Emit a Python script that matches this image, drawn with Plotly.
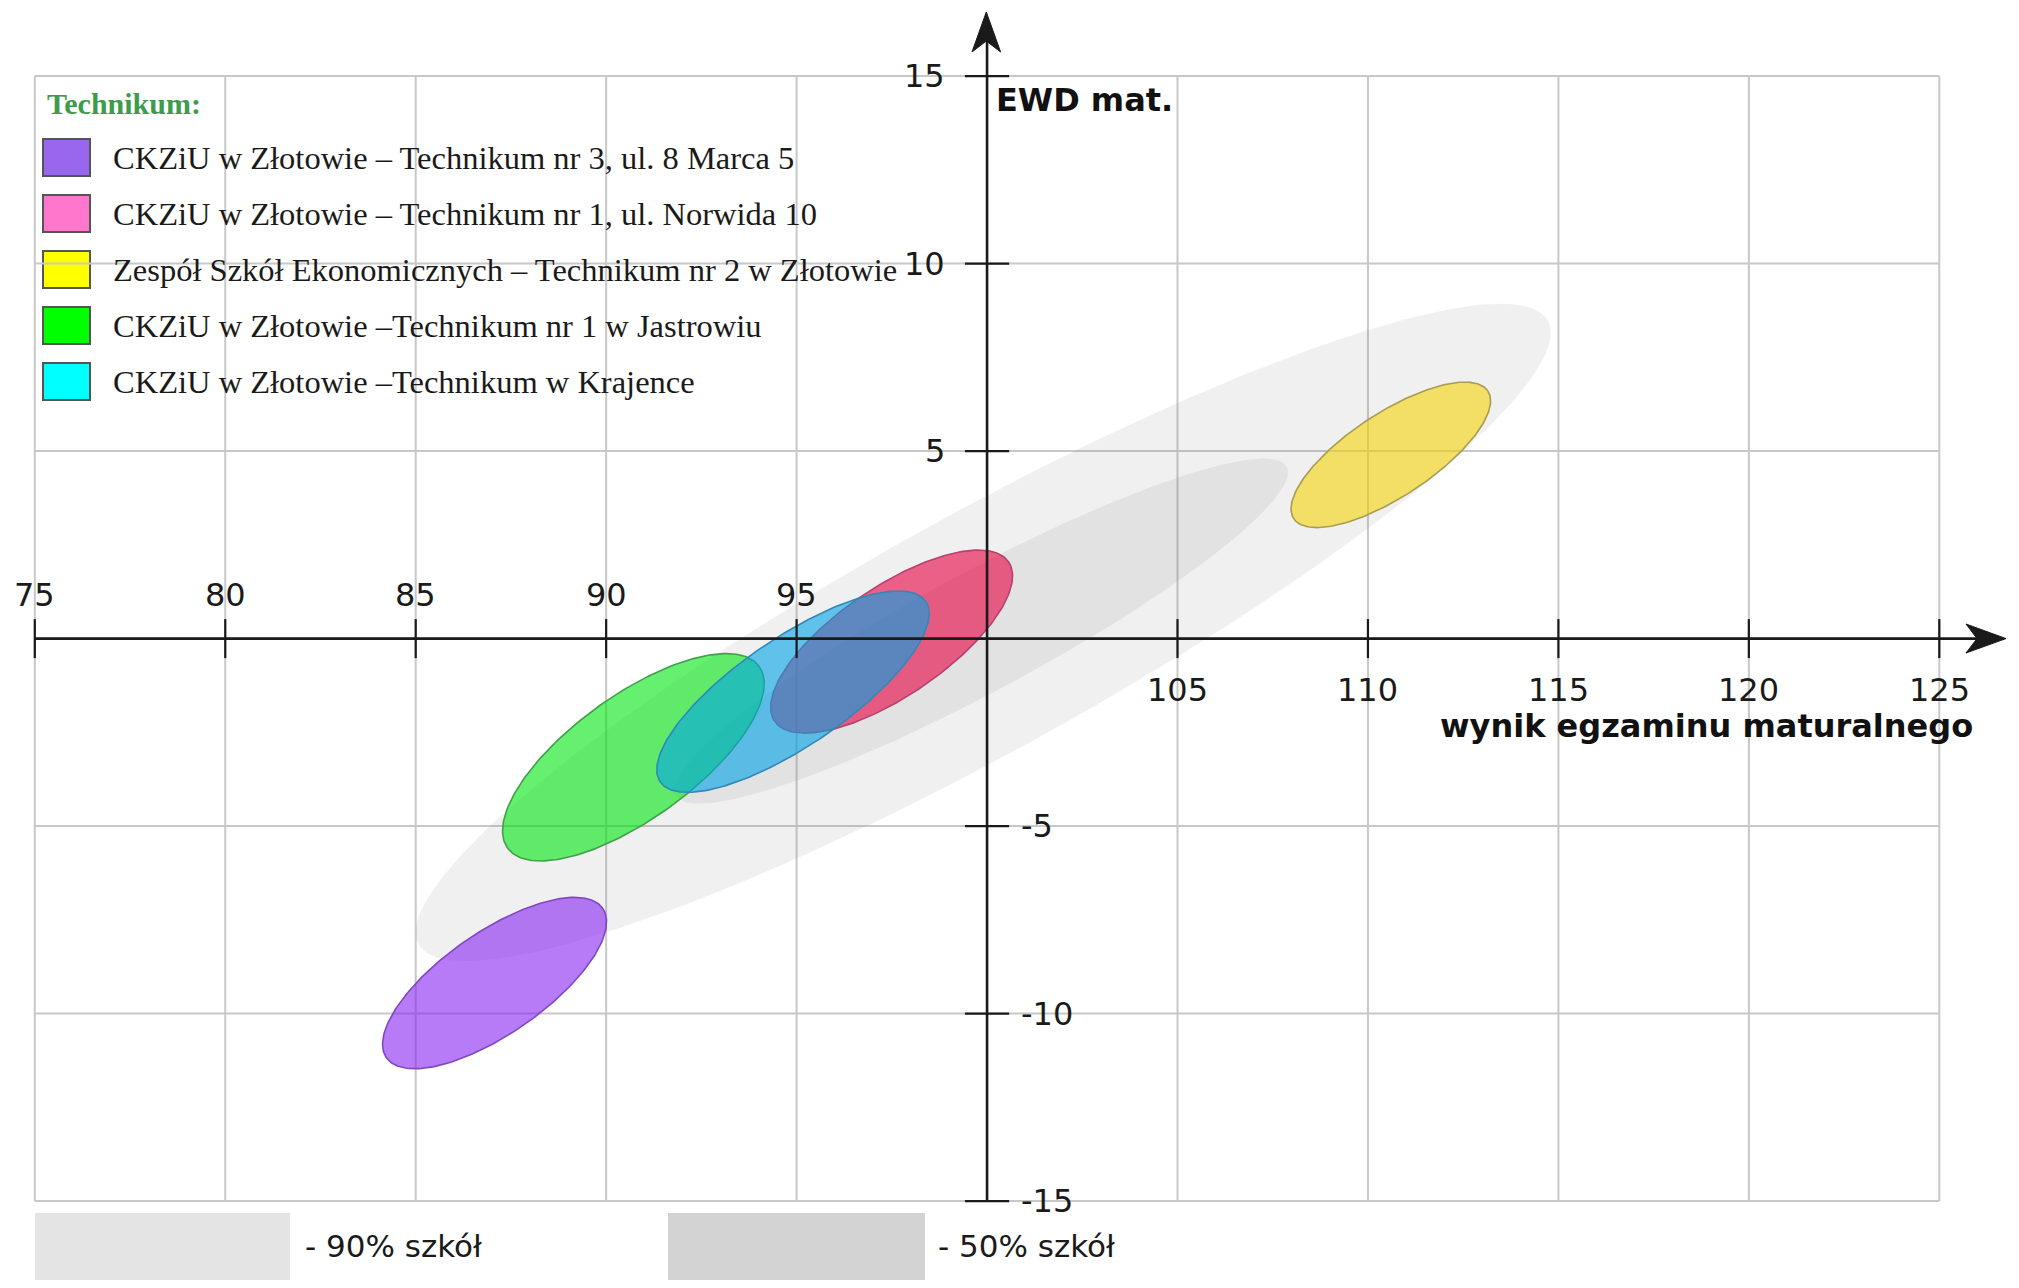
import numpy as np
import plotly.graph_objects as go

# ---------------- data ----------------
x_ticks = [75, 80, 85, 90, 95, 100, 105, 110, 115, 120, 125]
y_ticks = [-15, -10, -5, 0, 5, 10, 15]

legend_title = "Technikum:"
schools = [
    "CKZiU w Złotowie – Technikum nr 3, ul. 8 Marca 5",
    "CKZiU w Złotowie – Technikum nr 1, ul. Norwida 10",
    "Zespół Szkół Ekonomicznych – Technikum nr 2 w Złotowie",
    "CKZiU w Złotowie –Technikum nr 1 w Jastrowiu",
    "CKZiU w Złotowie –Technikum w Krajence",
]
# confidence ellipses: extents in data units + vertical half-thickness through centre
ell_xmin = [84.13, 94.32, 107.98, 87.28, 91.33]
ell_xmax = [90.01, 100.67, 113.22, 94.15, 98.48]
ell_ymin = [-11.47, -2.52, 2.96, -5.93, -4.10]
ell_ymax = [-6.90, 2.36, 6.84, -0.40, 1.27]
ell_halfchord = [1.60, 1.70, 1.30, 1.95, 1.70]

ref_labels = ["- 90% szkół", "- 50% szkół"]
ref_xmin = [85.0, 91.8]
ref_xmax = [114.8, 107.9]
ref_ymin = [-8.6, -4.4]
ref_ymax = [8.93, 4.8]
ref_halfchord = [3.6, 1.8]

x_title = "wynik egzaminu maturalnego"
y_title = "EWD mat."

# ---------------- styles / layout ----------------
OFF = 8                       # page body margin of the html page
W_FIG, H_FIG = 2003, 1272
X0_PX, SX = 34.8, 38.09       # pixel of x=75 and pixels per x unit (in the 2019x1288 page)
Y0_PX, SY = 638.6, 37.5       # pixel of y=0 and pixels per y unit
X_RANGE = [75 + (OFF - X0_PX) / SX, 75 + (OFF + W_FIG - X0_PX) / SX]
Y_RANGE = [(Y0_PX - OFF - H_FIG) / SY, (Y0_PX - OFF) / SY]

fill_cols = ["rgba(135,35,243,0.6)", "rgba(230,0,63,0.6)", "rgba(245,210,10,0.6)",
             "rgba(0,230,17,0.6)", "rgba(0,163,230,0.6)"]
line_cols = ["#8048c0", "#b84070", "#a89c50", "#40a048", "#3088b8"]
legend_cols = ["#9966ee", "#ff77cc", "#ffff00", "#00ff00", "#00ffff"]
ref_fill = ["rgba(128,128,128,0.12)", "rgba(128,128,128,0.13)"]
ref_box_cols = ["#e4e4e4", "#d3d3d3"]
GRID = "#c8c8c8"
AX = "#1a1a1a"
SANS = "DejaVu Sans"
SERIF = "Liberation Serif"


def px(x):
    return (x - OFF) / W_FIG


def py(y):
    return 1 - (y - OFF) / H_FIG


def ellipse(xmin, xmax, ymin, ymax, hc, n=240):
    cx, cy = (xmin + xmax) / 2, (ymin + ymax) / 2
    hx = (xmax - xmin) / 2 * SX
    hy = (ymax - ymin) / 2 * SY
    v = hc * SY
    ab = v * hx
    s = hx ** 2 + hy ** 2
    apb = np.sqrt(s + 2 * ab)
    amb = np.sqrt(max(s - 2 * ab, 0))
    a, b = (apb + amb) / 2, (apb - amb) / 2
    c2 = np.clip((hx ** 2 - hy ** 2) / (a ** 2 - b ** 2), -1, 1)
    th = 0.5 * np.arccos(c2)
    t = np.linspace(0, 2 * np.pi, n)
    u, w = a * np.cos(t), b * np.sin(t)
    dx = u * np.cos(th) - w * np.sin(th)
    dy = u * np.sin(th) + w * np.cos(th)
    return cx + dx / SX, cy + dy / SY


fig = go.Figure()

for i in range(len(ref_labels)):
    ex, ey = ellipse(ref_xmin[i], ref_xmax[i], ref_ymin[i], ref_ymax[i], ref_halfchord[i])
    fig.add_trace(go.Scatter(x=ex, y=ey, mode="lines", fill="toself", fillcolor=ref_fill[i],
                             line=dict(width=0), hoverinfo="skip", name=ref_labels[i]))

for i in [0, 1, 2, 3, 4]:
    ex, ey = ellipse(ell_xmin[i], ell_xmax[i], ell_ymin[i], ell_ymax[i], ell_halfchord[i])
    fig.add_trace(go.Scatter(x=ex, y=ey, mode="lines", fill="toself", fillcolor=fill_cols[i],
                             line=dict(width=1.6, color=line_cols[i]), name=schools[i],
                             hoverinfo="name"))

shapes = []
annotations = []

# grid
for xv in x_ticks:
    shapes.append(dict(type="line", layer="below", xref="x", yref="y", x0=xv, x1=xv,
                       y0=y_ticks[0], y1=y_ticks[-1], line=dict(color=GRID, width=2)))
for yv in y_ticks:
    shapes.append(dict(type="line", layer="below", xref="x", yref="y", x0=x_ticks[0], x1=x_ticks[-1],
                       y0=yv, y1=yv, line=dict(color=GRID, width=2)))

# legend box
shapes.append(dict(type="rect", layer="below", xref="paper", yref="paper",
                   x0=px(37), x1=px(901), y0=py(418), y1=py(75),
                   fillcolor="white", line=dict(width=0)))
annotations.append(dict(xref="paper", yref="paper", x=px(45), y=py(103), xanchor="left",
                        yanchor="middle", showarrow=False, text="<b>" + legend_title + "</b>",
                        font=dict(family=SERIF, size=30, color="#3c9c4c")))
for i, name in enumerate(schools):
    top = 139 + 56 * i
    shapes.append(dict(type="rect", layer="below", xref="paper", yref="paper",
                       x0=px(43), x1=px(90), y0=py(top + 37), y1=py(top),
                       fillcolor=legend_cols[i], line=dict(color="#555555", width=2)))
    annotations.append(dict(xref="paper", yref="paper", x=px(111), y=py(top + 18.5),
                            xanchor="left", yanchor="middle", showarrow=False, text=name,
                            font=dict(family=SERIF, size=32.5, color="#1a1a1a")))

# bottom reference legend
box_x = [(35, 290), (668, 925)]
txt_x = [303, 936]
for i in range(len(ref_labels)):
    shapes.append(dict(type="rect", layer="below", xref="paper", yref="paper",
                       x0=px(box_x[i][0]), x1=px(box_x[i][1]), y0=0, y1=py(1213),
                       fillcolor=ref_box_cols[i], line=dict(width=0)))
    annotations.append(dict(xref="paper", yref="paper", x=px(txt_x[i]), y=py(1246),
                            xanchor="left", yanchor="middle", showarrow=False, text=ref_labels[i],
                            font=dict(family=SANS, size=31, color="#1a1a1a")))

# axes
shapes.append(dict(type="line", layer="above", xref="x", yref="y", x0=x_ticks[0], x1=126.3,
                   y0=0, y1=0, line=dict(color=AX, width=2.6)))
shapes.append(dict(type="line", layer="above", xref="x", yref="y", x0=100, x1=100,
                   y0=y_ticks[0], y1=16.1, line=dict(color=AX, width=2.6)))


def arrow(pts):
    d = "M " + " L ".join(f"{px(a):.5f},{py(b):.5f}" for a, b in pts) + " Z"
    return dict(type="path", layer="above", xref="paper", yref="paper", path=d,
                fillcolor=AX, line=dict(color=AX, width=1))


shapes.append(arrow([(2006, 638.6), (1966, 624), (1977, 638.6), (1966, 653)]))
shapes.append(arrow([(986.3, 12), (972, 52), (986.3, 41), (1000.6, 52)]))

for xv in x_ticks:
    if xv == 100:
        continue
    shapes.append(dict(type="line", layer="above", xref="x", yref="y", x0=xv, x1=xv,
                       y0=-0.52, y1=0.52, line=dict(color=AX, width=2.2)))
    above = xv < 100
    annotations.append(dict(xref="x", yref="y", x=xv, y=0, showarrow=False, text=str(xv),
                            xanchor="center", yanchor="middle", yshift=44 if above else -51,
                            font=dict(family=SANS, size=32, color=AX)))
for yv in y_ticks:
    if yv == 0:
        continue
    shapes.append(dict(type="line", layer="above", xref="x", yref="y", x0=99.42, x1=100.58,
                       y0=yv, y1=yv, line=dict(color=AX, width=2.2)))
    pos = yv > 0
    annotations.append(dict(xref="x", yref="y", x=100, y=yv, showarrow=False, text=str(yv),
                            xanchor="right" if pos else "left", yanchor="middle",
                            xshift=-40 if pos else 32,
                            font=dict(family=SANS, size=32, color=AX)))

annotations.append(dict(xref="paper", yref="paper", x=px(994), y=py(100), xanchor="left",
                        yanchor="middle", showarrow=False, text="<b>" + y_title + "</b>",
                        font=dict(family=SANS, size=32, color="#111111")))
annotations.append(dict(xref="paper", yref="paper", x=px(1975), y=py(726), xanchor="right",
                        yanchor="middle", showarrow=False, text="<b>" + x_title + "</b>",
                        font=dict(family=SANS, size=32, color="#111111")))

fig.update_layout(
    width=W_FIG, height=H_FIG, margin=dict(l=0, r=0, t=0, b=0),
    paper_bgcolor="white", plot_bgcolor="white", showlegend=False,
    xaxis=dict(range=X_RANGE, visible=False, fixedrange=True),
    yaxis=dict(range=Y_RANGE, visible=False, fixedrange=True),
    shapes=shapes, annotations=annotations,
)

fig.write_html("out.html")
